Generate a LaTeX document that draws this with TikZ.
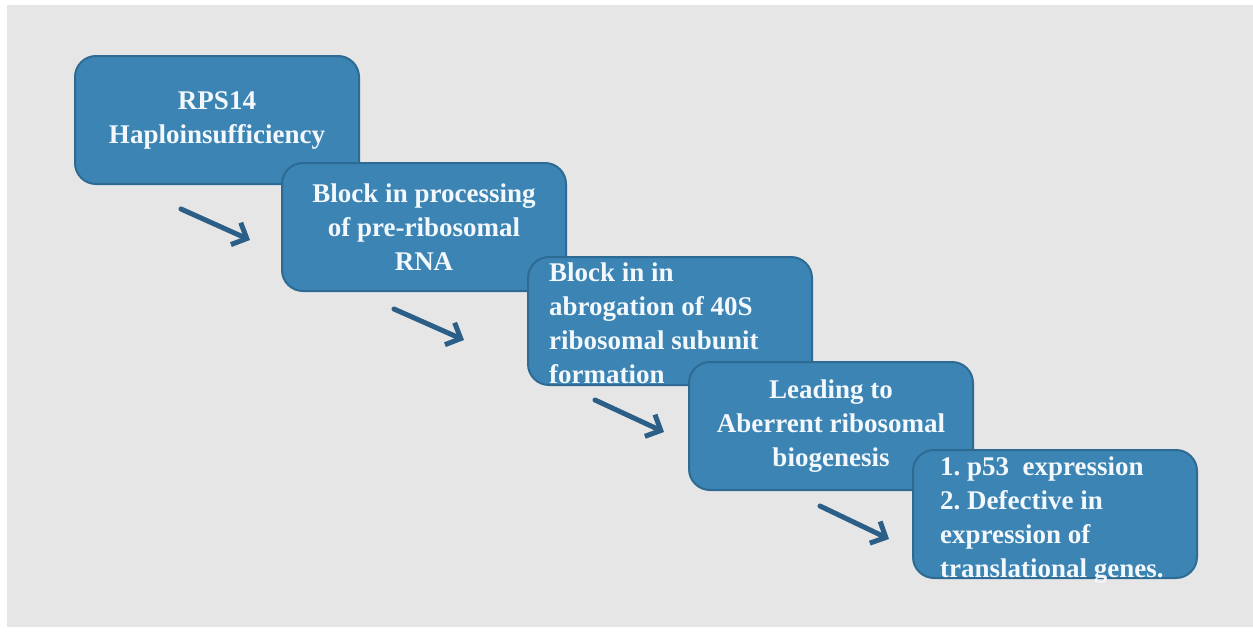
\documentclass[tikz,border=0pt]{standalone}
\usepackage{fontspec}
\setmainfont{Liberation Serif}
\usetikzlibrary{arrows.meta}
\definecolor{bg}{HTML}{E6E6E6}
\definecolor{boxfill}{HTML}{3B84B3}
\definecolor{boxline}{HTML}{2E6B94}
\definecolor{arr}{HTML}{2C5F87}
\definecolor{txt}{HTML}{F2F8FC}
\frenchspacing
\begin{document}
\begin{tikzpicture}[x=1pt,y=-1pt,
  boxfont/.style={font=\fontsize{27}{34}\selectfont\bfseries\frenchspacing},
  stepbox/.style={draw=boxline, line width=2pt, fill=boxfill, rounded corners=21pt,
    minimum width=284pt, minimum height=128pt, anchor=north west, inner sep=0pt,
    text=txt, boxfont, align=center},
  lbl/.style={anchor=north west, inner sep=0pt, text=txt, boxfont, align=left},
  flow/.style={draw=arr, line width=5pt, line cap=round,
    -{Straight Barb[length=12pt,width=24pt,line width=5pt]}}]
\useasboundingbox (0,0) rectangle (1253,632);
\fill[white] (0,0) rectangle (1253,632);
\fill[bg] (7,5) rectangle (1253,627);

\node[stepbox] (b1) at (74,55) {RPS14\\Haploinsufficiency};
\node[stepbox] (b2) at (281,162) {Block in processing\\of pre-ribosomal\\RNA};
\node[stepbox] (b3) at (527,256) {};
\node[lbl] (t3) at (549,263) {Block in in\\abrogation of 40S\\ribosomal subunit\\formation};
\node[stepbox] (b4) at (688,361) {Leading to\\Aberrent ribosomal\\biogenesis};
\node[stepbox] (b5) at (912,449) {};
\node[lbl] (t5) at (940,457) {1. p53\ \ expression\\2. Defective in\\expression of\\translational genes.};

\coordinate (a1s) at (181,209);
\coordinate (a1e) at (250,240);
\coordinate (a2s) at (394,309);
\coordinate (a2e) at (464,340);
\coordinate (a3s) at (595,400);
\coordinate (a3e) at (664,432);
\coordinate (a4s) at (820,506);
\coordinate (a4e) at (889,539);
\draw[flow] (a1s) -- (a1e);
\draw[flow] (a2s) -- (a2e);
\draw[flow] (a3s) -- (a3e);
\draw[flow] (a4s) -- (a4e);
\end{tikzpicture}
\end{document}
